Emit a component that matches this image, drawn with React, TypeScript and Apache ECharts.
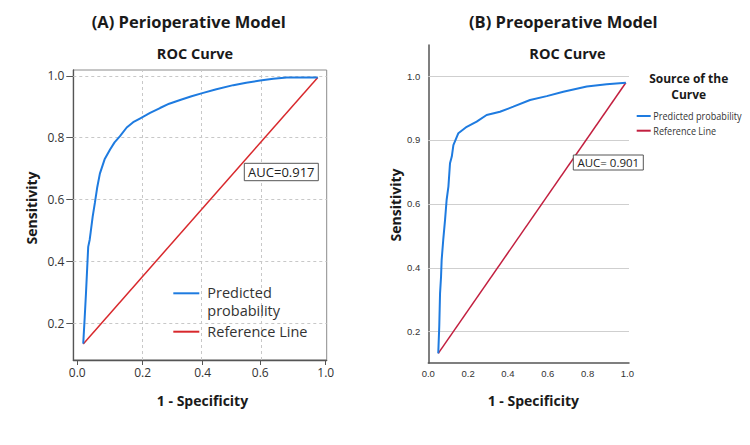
import React, { useEffect, useRef } from "react";
import * as echarts from "echarts";

// ---------- data ----------
// Panel A: Perioperative model
const fprA = [0.024, 0.030, 0.035, 0.040, 0.044, 0.050, 0.054, 0.062, 0.071, 0.080, 0.091, 0.110, 0.132, 0.150, 0.172, 0.199, 0.225, 0.252, 0.275, 0.293, 0.333, 0.370, 0.414, 0.460, 0.507, 0.560, 0.628, 0.680, 0.736, 0.789, 0.843, 0.900, 0.968];
const tprA = [0.134, 0.220, 0.296, 0.380, 0.447, 0.470, 0.495, 0.545, 0.590, 0.638, 0.684, 0.730, 0.762, 0.785, 0.805, 0.833, 0.850, 0.862, 0.872, 0.880, 0.896, 0.910, 0.922, 0.934, 0.945, 0.957, 0.970, 0.978, 0.985, 0.991, 0.995, 0.995, 0.995];
const refXA = [0.024, 0.968];
const refYA = [0.133, 0.995];
const aucA = "AUC=0.917";

// Panel B: Preoperative model
const fprB = [0.050, 0.055, 0.059, 0.064, 0.067, 0.075, 0.084, 0.092, 0.101, 0.109, 0.118, 0.126, 0.151, 0.193, 0.243, 0.293, 0.360, 0.427, 0.511, 0.595, 0.678, 0.796, 0.896, 0.992];
const tprB = [0.132, 0.216, 0.320, 0.372, 0.424, 0.487, 0.549, 0.612, 0.654, 0.727, 0.748, 0.784, 0.821, 0.841, 0.857, 0.878, 0.888, 0.904, 0.925, 0.937, 0.951, 0.967, 0.974, 0.979];
const refXB = [0.050, 0.992];
const refYB = [0.132, 0.979];
const aucB = "AUC= 0.901";

// Tick values / labels as printed in the picture
const xTickValuesA = [0, 0.2633, 0.5048, 0.7367, 1.0];
const xTickLabelsA = ["0.0", "0.2", "0.4", "0.6", "1.0"];
const yTickValuesA = [0.2, 0.4, 0.6, 0.8, 1.0];
const yTickLabelsA = ["0.2", "0.4", "0.6", "0.8", "1.0"];
const xTickValuesB = [0, 0.2, 0.4, 0.6, 0.8, 1.0];
const xTickLabelsB = ["0.0", "0.2", "0.4", "0.6", "0.8", "1.0"];
const yTickValuesB = [0.2, 0.4, 0.6, 0.8, 1.0];
const yTickLabelsB = ["0.2", "0.4", "0.6", "0.9", "1.0"];

const seriesNames = ["Predicted probability", "Reference Line"];

// ---------- styling ----------
const FONT = "'Open Sans', 'Noto Sans', sans-serif";
const NARROW = "'Liberation Sans', Arial, sans-serif";
const BLUE = "#1e7be0";
const RED_A = "#d8282c";
const RED_B = "#c21f3f";

const zip = (xs: number[], ys: number[]) => xs.map((x, i) => [x, ys[i]]);
const fmt = (vals: number[], labels: string[]) => (v: number) => {
  const i = vals.findIndex((t) => Math.abs(t - v) < 1e-6);
  return i >= 0 ? labels[i] : "";
};

const txt = (text: string, x: number, y: number, font: string, extra: any = {}, style: any = {}) => ({
  type: "text",
  x,
  y,
  z: 100,
  ...extra,
  style: { text, font, fill: "#1a1a1a", align: "center", verticalAlign: "middle", ...style },
});

export default function App() {
  const ref = useRef<HTMLDivElement>(null);

  useEffect(() => {
    if (!ref.current) return;
    const chart = echarts.init(ref.current, null, { renderer: "svg" });

    const option: any = {
      animation: false,
      backgroundColor: "#ffffff",
      grid: [
        { left: 73.3, top: 70, width: 253.4, height: 290, show: true, borderColor: "#8c8c8c", borderWidth: 1, backgroundColor: "transparent" },
        { left: 428.3, top: 45, width: 200.7, height: 318 },
      ],
      xAxis: [
        {
          gridIndex: 0,
          type: "value",
          min: -0.016,
          max: 1.004,
          axisLine: { show: true, onZero: false, lineStyle: { color: "#555", width: 1.3 } },
          axisTick: { show: true, customValues: xTickValuesA, length: 5, lineStyle: { color: "#555" } },
          axisLabel: { customValues: xTickValuesA, formatter: fmt(xTickValuesA, xTickLabelsA), color: "#333", fontSize: 12, fontFamily: FONT, margin: 6 },
          splitLine: { show: false },
        },
        {
          gridIndex: 1,
          type: "value",
          min: 0,
          max: 1.008,
          axisLine: { show: true, onZero: false, lineStyle: { color: "#555", width: 1.5 } },
          axisTick: { show: false },
          axisLabel: { customValues: xTickValuesB, formatter: fmt(xTickValuesB, xTickLabelsB), color: "#333", fontSize: 9.5, fontFamily: NARROW, margin: 5 },
          splitLine: { show: false },
        },
      ],
      yAxis: [
        {
          gridIndex: 0,
          type: "value",
          min: 0.081,
          max: 1.019,
          axisLine: { show: true, onZero: false, lineStyle: { color: "#555", width: 1.3 } },
          axisTick: { show: true, customValues: yTickValuesA, length: 7, lineStyle: { color: "#555" } },
          axisLabel: { customValues: yTickValuesA, formatter: fmt(yTickValuesA, yTickLabelsA), color: "#333", fontSize: 12, fontFamily: FONT, margin: 9 },
          splitLine: { show: false },
        },
        {
          gridIndex: 1,
          type: "value",
          min: 0.102,
          max: 1.097,
          axisLine: { show: true, onZero: false, lineStyle: { color: "#555", width: 1.5 } },
          axisTick: { show: false },
          axisLabel: { customValues: yTickValuesB, formatter: fmt(yTickValuesB, yTickLabelsB), color: "#333", fontSize: 9.5, fontFamily: NARROW, margin: 8 },
          splitLine: { show: false },
        },
      ],
      series: [
        {
          name: seriesNames[1],
          type: "line",
          xAxisIndex: 0,
          yAxisIndex: 0,
          data: zip(refXA, refYA),
          symbol: "none",
          lineStyle: { color: RED_A, width: 1.5 },
          z: 3,
          markLine: {
            silent: true,
            z: 1,
            symbol: ["none", "none"],
            label: { show: false },
            lineStyle: { color: "#c8c8c8", type: [3, 3], width: 1 },
            data: [
              ...xTickValuesA.slice(1, -1).map((v) => ({ xAxis: v })),
              ...yTickValuesA.map((v) => ({ yAxis: v })),
            ],
          },
        },
        {
          name: seriesNames[0],
          type: "line",
          xAxisIndex: 0,
          yAxisIndex: 0,
          data: zip(fprA, tprA),
          symbol: "none",
          lineStyle: { color: BLUE, width: 2 },
          z: 4,
        },
        {
          name: seriesNames[1],
          type: "line",
          xAxisIndex: 1,
          yAxisIndex: 1,
          data: zip(refXB, refYB),
          symbol: "none",
          lineStyle: { color: RED_B, width: 1.5 },
          z: 3,
          markLine: {
            silent: true,
            z: 1,
            symbol: ["none", "none"],
            label: { show: false },
            lineStyle: { color: "#cfcfcf", type: "solid", width: 1.2 },
            data: yTickValuesB.map((v) => ({ yAxis: v })),
          },
        },
        {
          name: seriesNames[0],
          type: "line",
          xAxisIndex: 1,
          yAxisIndex: 1,
          data: zip(fprB, tprB),
          symbol: "none",
          lineStyle: { color: BLUE, width: 2 },
          z: 4,
        },
      ],
      graphic: [
        // titles
        txt("(A) Perioperative Model", 188.7, 21.7, `bold 16.5px ${FONT}`),
        txt("(B) Preoperative Model", 563.3, 21.7, `bold 16.5px ${FONT}`),
        txt("ROC Curve", 195, 53, `bold 14.5px ${FONT}`),
        txt("ROC Curve", 567.5, 53.3, `bold 14.5px ${FONT}`),
        // axis names
        txt("1 - Specificity", 202.5, 400, `bold 14px ${FONT}`),
        txt("1 - Specificity", 533.3, 400.7, `bold 14px ${FONT}`),
        txt("Sensitivity", 31.7, 208, `bold 14px ${FONT}`, { rotation: Math.PI / 2 }),
        txt("Sensitivity", 395, 205, `bold 14px ${FONT}`, { rotation: Math.PI / 2 }),
        // left legend
        { type: "line", z: 100, shape: { x1: 173.3, y1: 293.3, x2: 199.3, y2: 293.3 }, style: { stroke: BLUE, lineWidth: 2 } },
        { type: "line", z: 100, shape: { x1: 173.3, y1: 331.7, x2: 199.3, y2: 331.7 }, style: { stroke: RED_A, lineWidth: 2 } },
        txt("Predicted\nprobability", 207.3, 301.3, `14.5px ${FONT}`, {}, { align: "left", fill: "#333", lineHeight: 17.5 }),
        txt(seriesNames[1], 207.3, 331.7, `14.5px ${FONT}`, {}, { align: "left", fill: "#333" }),
        // left AUC box
        { type: "rect", z: 100, shape: { x: 244.3, y: 163.3, width: 74, height: 17.4 }, style: { fill: "#fff", stroke: "#555", lineWidth: 1 } },
        txt(aucA, 281.3, 172.2, `13px ${FONT}`, { z: 101 }, { fill: "#222" }),
        // right legend
        txt("Source of the\nCurve", 688.7, 86.5, `bold 12px ${FONT}`, {}, { lineHeight: 16.5 }),
        { type: "line", z: 100, shape: { x1: 636.7, y1: 116, x2: 650.7, y2: 116 }, style: { stroke: BLUE, lineWidth: 2 } },
        { type: "line", z: 100, shape: { x1: 636.7, y1: 130.7, x2: 650.7, y2: 130.7 }, style: { stroke: RED_B, lineWidth: 2 } },
        txt(seriesNames[0], 653.3, 116, `11.5px ${FONT}`, { scaleX: 0.79 }, { align: "left", fill: "#333" }),
        txt(seriesNames[1], 653.3, 130.7, `11.5px ${FONT}`, { scaleX: 0.79 }, { align: "left", fill: "#333" }),
        // right AUC box
        { type: "rect", z: 100, shape: { x: 573.3, y: 155, width: 70, height: 15 }, style: { fill: "#fff", stroke: "#555", lineWidth: 1 } },
        txt(aucB, 608.3, 162.6, `11.5px ${FONT}`, { z: 101 }, { fill: "#222" }),
      ],
    };

    chart.setOption(option);
    return () => chart.dispose();
  }, []);

  return <div ref={ref} style={{ position: "fixed", left: 0, top: 0, width: 750, height: 445 }} />;
}
